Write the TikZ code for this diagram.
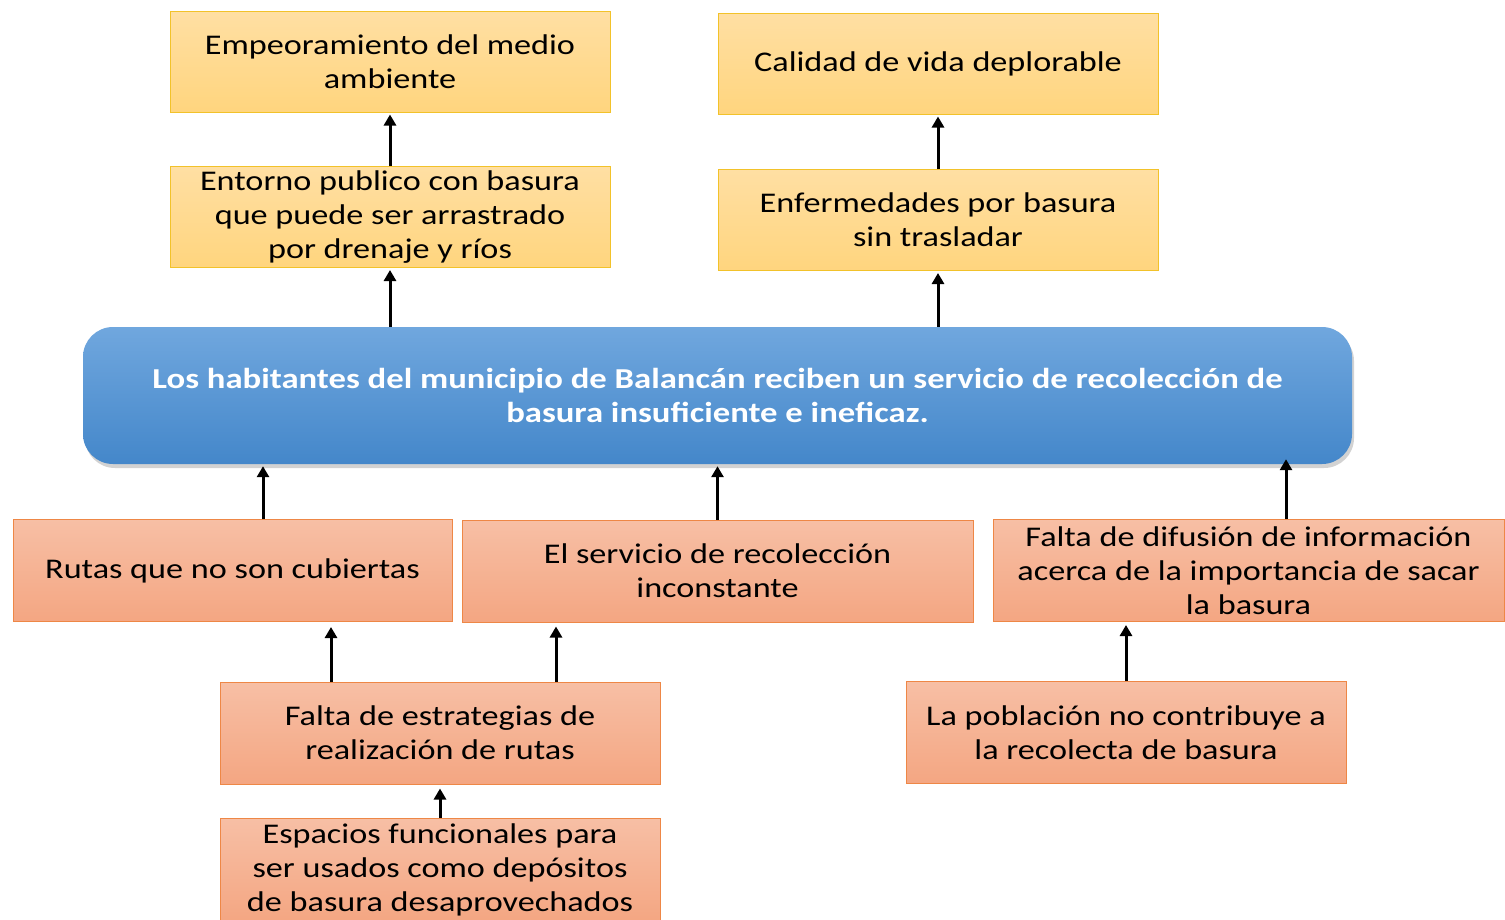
\documentclass[tikz,border=0pt]{standalone}
\usepackage{fontspec}
\setmainfont[FakeStretch=1.2]{Carlito}
\usetikzlibrary{shadows,arrows.meta}
\definecolor{ytop}{HTML}{FFDFA3}
\definecolor{ybot}{HTML}{FFD57E}
\definecolor{ybord}{HTML}{F2C22A}
\definecolor{stop}{HTML}{F7BFA5}
\definecolor{sbot}{HTML}{F4A682}
\definecolor{sbord}{HTML}{EE8746}
\definecolor{btop}{HTML}{70A7DE}
\definecolor{bbot}{HTML}{4487CA}
\begin{document}
\begin{tikzpicture}[x=1pt,y=-1pt,
  box/.style={line width=1pt, align=center, inner sep=0pt,
    font=\fontsize{28.5}{34}\selectfont},
  effect/.style={box, draw=ybord, top color=ytop, bottom color=ybot,
    minimum width=440pt, minimum height=101pt},
  cause/.style={box, draw=sbord, top color=stop, bottom color=sbot,
    minimum height=102pt},
  core/.style={rounded corners=30pt, top color=btop, bottom color=bbot,
    draw=none, text=white, align=center, inner sep=0pt,
    minimum width=1269pt, minimum height=137pt,
    font=\bfseries\fontsize{28.9}{34}\selectfont,
    drop shadow={shadow xshift=2pt, shadow yshift=-4pt, opacity=0.25, fill=black!70}},
  arr/.style={line width=3pt, -{Triangle[length=11pt,width=12pt]}, shorten >=2pt}]
\useasboundingbox (0,0) rectangle (1505,919);
\fill[white] (0,0) rectangle (1505,919);

\node[effect] (empeor) at (390,61.5) {Empeoramiento del medio\\ambiente};
\node[effect] (entorno) at (390,217) {Entorno publico con basura\\que puede ser arrastrado\\por drenaje y ríos};
\node[effect] (calidad) at (938,63.5) {Calidad de vida deplorable};
\node[effect] (enferm) at (938,220) {Enfermedades por basura\\sin trasladar};

\node[core] (core) at (717.5,395.5) {Los habitantes del municipio de Balancán reciben un servicio de recolección de\\basura insuficiente e ineficaz.};

\node[cause, minimum width=439pt] (rutas) at (232.5,570.5) {Rutas que no son cubiertas};
\node[cause, minimum width=511pt] (servicio) at (717.5,571) {El servicio de recolección\\inconstante};
\node[cause, minimum width=511pt] (difusion) at (1248.5,570.5) {Falta de difusión de información\\acerca de la importancia de sacar\\la basura};
\node[cause, minimum width=440pt] (estrat) at (440,733) {Falta de estrategias de\\realización de rutas};
\node[cause, minimum width=440pt] (poblac) at (1126,732.5) {La población no contribuye a\\la recolecta de basura};
\node[cause, minimum width=440pt, minimum height=104pt] (espacios) at (440,870) {Espacios funcionales para\\ser usados como depósitos\\de basura desaprovechados};

\coordinate (xa) at (263,0);
\coordinate (xb) at (1286,0);
\coordinate (xc) at (331,0);
\coordinate (xd) at (556,0);

\draw[arr] (entorno.north) -- (empeor.south);
\draw[arr] (core.north -| entorno.north) -- (entorno.south);
\draw[arr] (enferm.north) -- (calidad.south);
\draw[arr] (core.north -| enferm.north) -- (enferm.south);
\draw[arr] (rutas.north -| xa) -- (core.south -| xa);
\draw[arr] (servicio.north) -- (core.south -| servicio.north);
\draw[arr] (difusion.north -| xb) -- ([yshift=7pt]core.south -| xb);
\draw[arr, shorten >=5pt] (estrat.north -| xc) -- (rutas.south -| xc);
\draw[arr, shorten >=4pt] (estrat.north -| xd) -- (servicio.south -| xd);
\draw[arr, shorten >=4pt] (espacios.north) -- (estrat.south);
\draw[arr, shorten >=3pt] (poblac.north) -- (difusion.south -| poblac.north);
\end{tikzpicture}
\end{document}
